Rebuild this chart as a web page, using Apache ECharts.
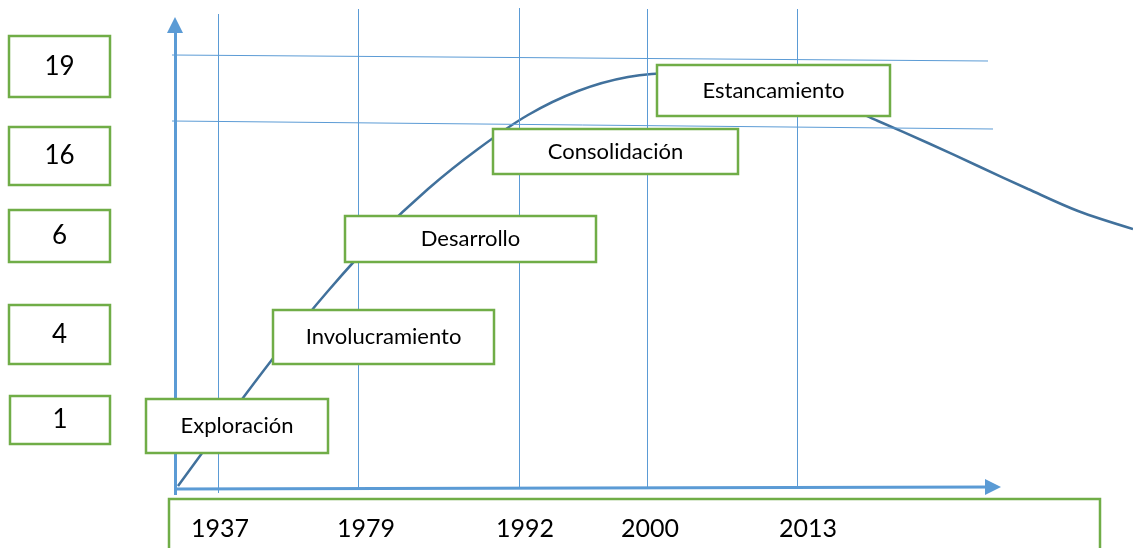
<!DOCTYPE html>
<html>
<head>
<meta charset="utf-8">
<script src="https://cdn.jsdelivr.net/npm/echarts@6/dist/echarts.min.js"></script>
<style>
html, body { margin: 0; padding: 0; background: #fff; }
#chart { width: 1133px; height: 548px; }
</style>
</head>
<body>
<div id="chart"></div>
<script>
// etapas del ciclo de vida del destino
var stages = ['Exploración', 'Involucramiento', 'Desarrollo', 'Consolidación', 'Estancamiento'];
var levels = ['19', '16', '6', '4', '1'];
var years = ['1937', '1979', '1992', '2000', '2013'];

// curva (tiempo, nivel) medida desde el origen de los ejes
var curveX = [3, 53, 103, 153, 203, 253, 303, 353, 403, 453, 503, 553, 603, 653, 703, 753, 803, 853, 903, 958];
var curveY = [2, 70, 136, 197, 252, 299, 339, 373, 397, 411, 415, 412, 403, 388, 367, 345, 322, 299, 277, 259];

// lineas verticales de los años
var yearX = [43, 183, 344, 472, 622];
var yearTop = [474, 479, 480, 479, 479];
var yearBottom = [-5, 0, 0, 0, 0];

// las dos lineas horizontales (x1, y1, x2, y2)
var limitLines = [[-3, 433, 813, 427], [-3, 367, 818, 359]];

// cajas (pixeles): x, y, ancho, alto
var levelBoxes = [[9, 36, 101, 61], [9, 127, 101, 58], [9, 210, 101, 52], [9, 305, 101, 59], [10, 396, 100, 48]];
var stageBoxes = [[146, 399, 182, 54], [273, 310, 221, 54], [345, 216, 251, 46], [493, 129, 245, 45], [657, 65, 233, 51]];
var yearLabelX = [220, 366, 525, 650, 808];

var blue = '#5B9BD5';
var green = '#70AD47';

var chart = echarts.init(document.getElementById('chart'));

var lines = [];
yearX.forEach(function (x, i) {
    lines.push([{ coord: [x, yearBottom[i]] }, { coord: [x, yearTop[i]] }]);
});
limitLines.forEach(function (l) {
    lines.push([{ coord: [l[0], l[1]] }, { coord: [l[2], l[3]] }]);
});
// ejes con flecha
var axisStyle = { color: blue, width: 3, type: 'solid' };
lines.push([{ coord: [0, -7], symbol: 'none', lineStyle: axisStyle }, { coord: [0, 463], symbol: 'triangle', symbolSize: 16, lineStyle: axisStyle }]);
lines.push([{ coord: [0, -1], symbol: 'none', lineStyle: axisStyle }, { coord: [818, 1], symbol: 'triangle', symbolSize: 16, lineStyle: axisStyle }]);

function box(b, text, size) {
    return [{
        type: 'rect',
        z: 100,
        shape: { x: b[0], y: b[1], width: b[2], height: b[3] },
        style: { fill: '#fff', stroke: green, lineWidth: 2.5 }
    }, {
        type: 'text',
        z: 101,
        x: b[0] + b[2] / 2,
        y: b[1] + b[3] / 2,
        style: {
            text: text, font: size + 'px Lato', fill: '#000',
            align: 'center', verticalAlign: 'middle',
            textAlign: 'center', textVerticalAlign: 'middle'
        }
    }];
}

var graphics = [];
levelBoxes.forEach(function (b, i) { graphics = graphics.concat(box(b, levels[i], 26)); });
stageBoxes.forEach(function (b, i) { graphics = graphics.concat(box(b, stages[i], 22)); });
graphics.push({
    type: 'rect', z: 100,
    shape: { x: 169, y: 499, width: 931, height: 70 },
    style: { fill: '#fff', stroke: green, lineWidth: 2.5 }
});
years.forEach(function (y, i) {
    graphics.push({
        type: 'text', z: 101, x: yearLabelX[i], y: 529,
        style: {
            text: y, font: '25px Lato', fill: '#000',
            align: 'center', verticalAlign: 'middle',
            textAlign: 'center', textVerticalAlign: 'middle'
        }
    });
});

var option = {
    animation: false,
    grid: { left: 0, right: 0, top: 0, bottom: 0 },
    xAxis: { type: 'value', min: -175, max: 958, show: false },
    yAxis: { type: 'value', min: -60, max: 488, show: false },
    series: [{
        type: 'line',
        data: [],
        z: 1,
        markLine: {
            silent: true,
            symbol: ['none', 'none'],
            label: { show: false },
            lineStyle: { color: blue, width: 1, type: 'solid' },
            emphasis: { disabled: true },
            data: lines
        }
    }, {
        type: 'line',
        z: 2,
        smooth: 0.33,
        showSymbol: false,
        symbol: 'none',
        lineStyle: { color: '#41719C', width: 2.5 },
        data: curveX.map(function (x, i) { return [x, curveY[i]]; })
    }],
    graphic: graphics
};

chart.setOption(option);
</script>
</body>
</html>
